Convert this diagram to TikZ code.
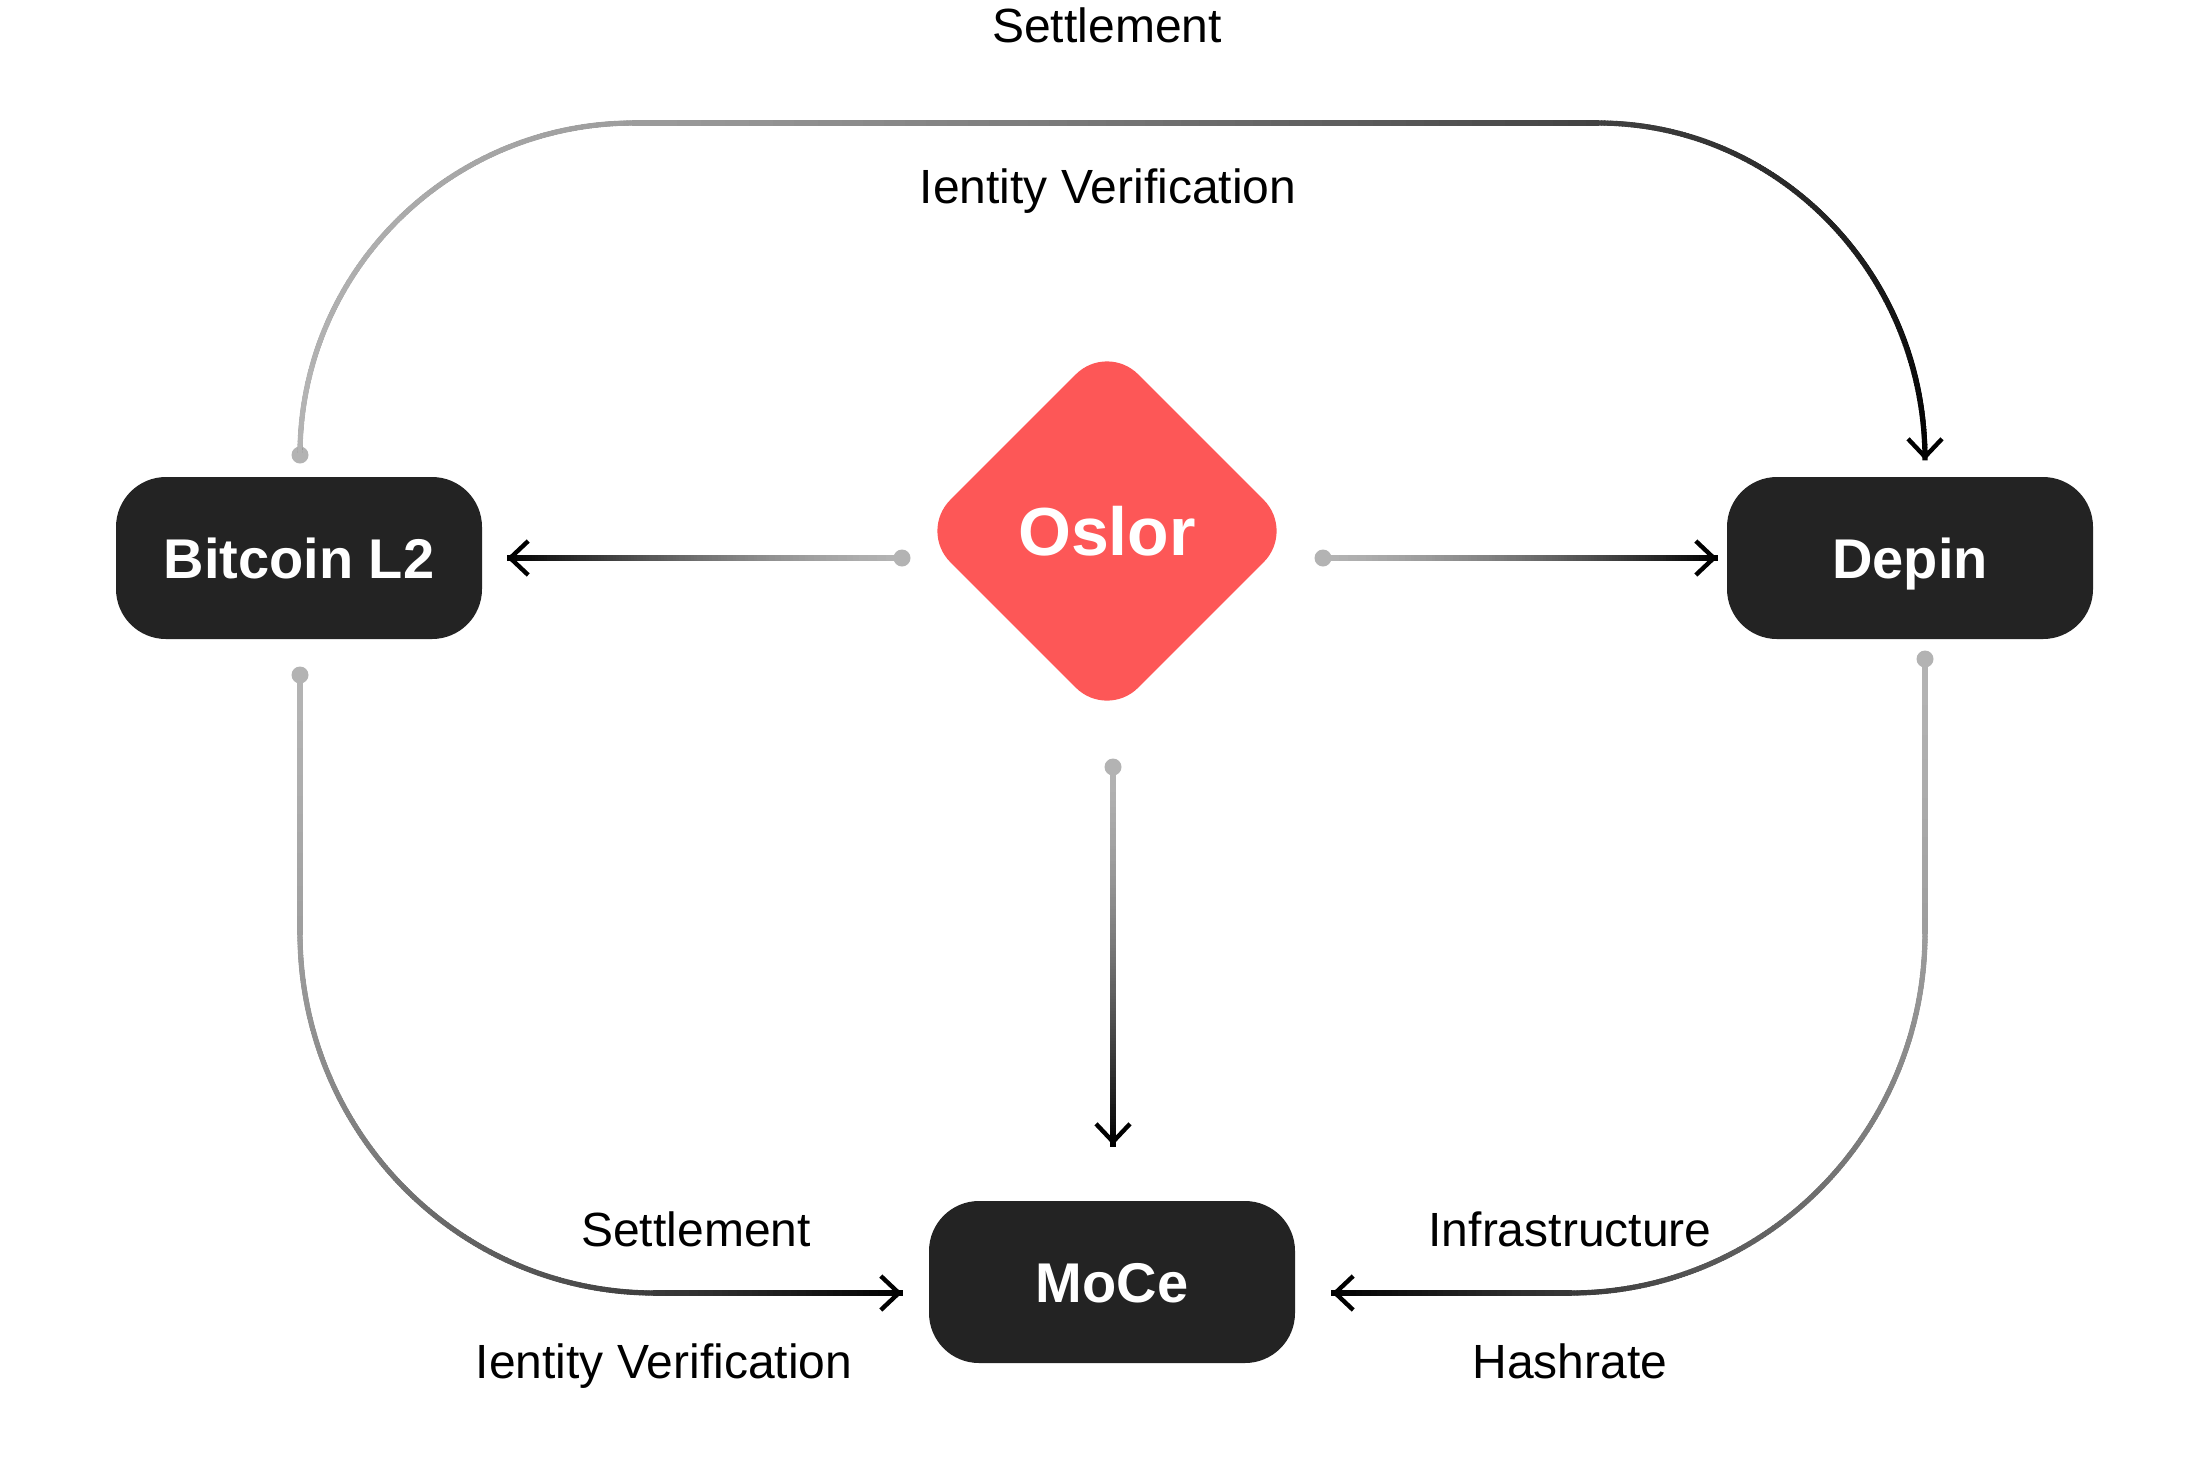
\documentclass[tikz,border=0pt]{standalone}
\usepackage{fontspec}
\setmainfont{Liberation Sans}
\usetikzlibrary{arrows.meta,shapes.geometric,decorations.markings}
\definecolor{boxdark}{HTML}{232323}
\definecolor{oslorred}{HTML}{FD5757}
\definecolor{conngray}{HTML}{B3B3B3}
\tikzset{
  darkbox/.style={rectangle, rounded corners=25pt, fill=boxdark, text=white,
    minimum width=183pt, minimum height=81pt, inner sep=0pt,
    font=\bfseries\fontsize{28}{30}\selectfont, text height=20pt, text depth=0pt},
  hub/.style={diamond, aspect=1, fill=oslorred, rounded corners=22pt,
    minimum width=188pt, minimum height=188pt, inner sep=0pt, text=white,
    font=\bfseries\fontsize{34}{36}\selectfont, text height=24.3pt, text depth=0pt},
  lbl/.style={font=\fontsize{24}{28}\selectfont, text=black, inner sep=0pt, anchor=base},
  enddot/.style={circle, fill=conngray, minimum size=8.5pt, inner sep=0pt},
  gradconn/.style={draw=black, line width=2.2pt,
    -{Straight Barb[length=9pt,width=17pt]},
    postaction={decorate, decoration={markings,
      mark=between positions 0 and 1 step 1.5pt with {
        \pgfmathsetmacro\gf{min(1,(\pgfkeysvalueof{/pgf/decoration/mark info/sequence number}*1.5)/\pgfdecoratedpathlength)}
        \pgfmathtruncatemacro\gp{min(100,100*pow(\gf,1.5))}
        \draw[-, line width=2.6pt, draw=black!\gp!conngray] (-1pt,0pt) -- (1pt,0pt);
      }}}},
}
\begin{document}
\begin{tikzpicture}[x=0.5pt,y=-0.5pt]
\useasboundingbox (0,0) rectangle (2211,1479);
% main nodes
\node[darkbox] (btc) at (299,558) {Bitcoin L2};
\node[darkbox] (dep) at (1910,558) {Depin};
\node[darkbox] (moce) at (1112,1282) {MoCe};
\node[hub] (oslor) at (1107,531) {Oslor};
% start dots
\node[enddot] (d1) at (902,558) {};
\node[enddot] (d2) at (1323,558) {};
\node[enddot] (d3) at (1113,767) {};
\node[enddot] (d4) at (300,455) {};
\node[enddot] (d5) at (300,675) {};
\node[enddot] (d6) at (1925,659) {};
% arrow tips
\coordinate (t1) at (507,558);
\coordinate (t2) at (1717,558);
\coordinate (t3) at (1113,1145);
\coordinate (t4) at (1925,460);
\coordinate (t5) at (902,1293);
\coordinate (t6) at (1332,1293);
% connectors
\draw[gradconn] (d1.center) -- (t1);
\draw[gradconn] (d2.center) -- (t2);
\draw[gradconn] (d3.center) -- (t3);
\draw[gradconn] (d4.center) .. controls (300,271.6) and (449.5,123) .. (634,123)
   -- (1598,123) .. controls (1778.6,123) and (1925,273.9) .. (t4);
\draw[gradconn] (d5.center) -- (300,933) .. controls (300,1131.8) and (458.9,1293) .. (655,1293) -- (t5);
\draw[gradconn] (d6.center) -- (1925,933) .. controls (1925,1131.8) and (1766.1,1293) .. (1570,1293) -- (t6);
% labels
\node[lbl] (lt1) at (1107,42) {Settlement};
\node[lbl] (lt2) at (1108,203) {Ientity Verification};
\node[lbl] (lb1) at (696,1246) {Settlement};
\node[lbl] (lb2) at (664,1378) {Ientity Verification};
\node[lbl] (lb3) at (1570,1246) {Infrastructure};
\node[lbl] (lb4) at (1570,1378) {Hashrate};
\end{tikzpicture}
\end{document}
